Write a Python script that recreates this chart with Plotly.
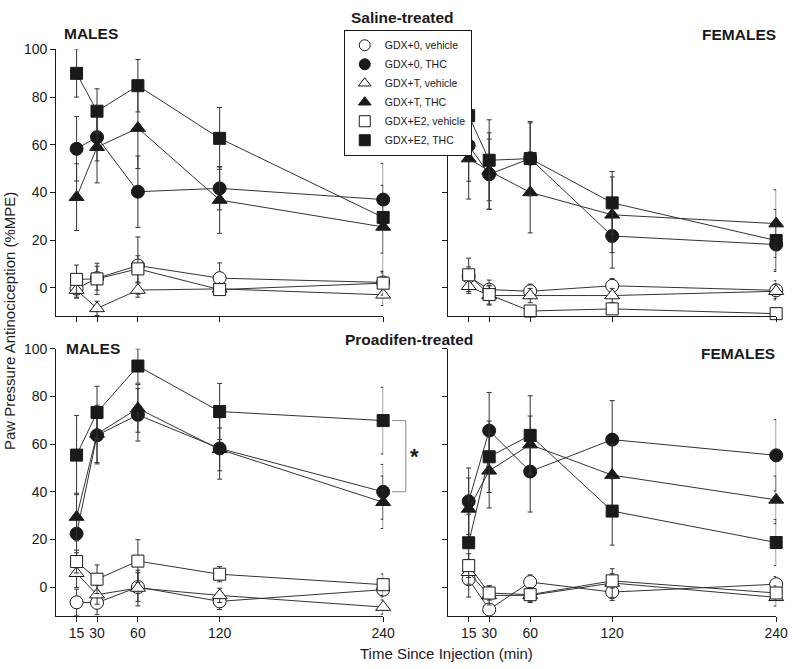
import plotly.graph_objects as go

# ---------------- data ----------------
time_min = [15, 30, 60, 120, 240]
x_tick_labels = ["15", "30", "60", "120", "240"]
y_tick_vals = [0, 20, 40, 60, 80, 100]

group_names = ["GDX+0, vehicle", "GDX+0, THC", "GDX+T, vehicle",
               "GDX+T, THC", "GDX+E2, vehicle", "GDX+E2, THC"]

# Saline-treated, males
ms_gdx0_veh = [-0.4, 4.0, 9.3, 4.0, 2.2]
ms_gdx0_veh_se = [4, 5, 12, 6.4, 4]
ms_gdx0_thc = [58.3, 63.2, 40.3, 41.7, 37.0]
ms_gdx0_thc_se = [13.5, 10, 15, 9, 6]
ms_gdxT_veh = [-1.0, -8.7, -1.0, -0.5, -3.0]
ms_gdxT_veh_se = [3, 3, 3, 2, 4.5]
ms_gdxT_thc = [38.0, 59.0, 67.0, 36.8, 25.5]
ms_gdxT_thc_se = [14, 15, 17, 14, 11]
ms_gdxE2_veh = [3.5, 3.7, 7.9, -0.8, 1.9]
ms_gdxE2_veh_se = [6, 6.6, 5.5, 2, 5]
ms_gdxE2_thc = [90.0, 74.1, 84.8, 62.7, 29.5]
ms_gdxE2_thc_se = [10, 9.4, 11, 13, 22.7]

# Saline-treated, females
fs_gdx0_veh = [4.7, -0.8, -1.5, 0.8, -1.1]
fs_gdx0_veh_se = [4, 4, 3, 3, 4]
fs_gdx0_thc = [59.7, 47.6, 54.2, 21.7, 18.1]
fs_gdx0_thc_se = [15, 14.8, 15, 13.5, 10.6]
fs_gdxT_veh = [0.6, -3.3, -3.3, -3.3, -1.5]
fs_gdxT_veh_se = [3, 4, 3, 3, 3]
fs_gdxT_thc = [54.2, 49.0, 40.0, 30.6, 26.9]
fs_gdxT_thc_se = [17, 16, 17, 15.9, 14.2]
fs_gdxE2_veh = [5.4, -2.9, -9.8, -8.9, -10.9]
fs_gdxE2_veh_se = [7, 4, 2, 2, 2]
fs_gdxE2_thc = [72.2, 53.5, 54.2, 35.6, 19.8]
fs_gdxE2_thc_se = [15, 17, 15.6, 13.2, 13]

# Proadifen-treated, males
mp_gdx0_veh = [-6.4, -6.6, 0.0, -6.0, -1.1]
mp_gdx0_veh_se = [5.5, 5, 6, 3.4, 3]
mp_gdx0_thc = [22.4, 63.7, 72.3, 58.2, 40.0]
mp_gdx0_thc_se = [8, 12, 11, 12.9, 11.5]
mp_gdxT_veh = [5.8, -3.2, -0.4, -3.5, -8.4]
mp_gdxT_veh_se = [6, 4, 7.5, 3, 3]
mp_gdxT_thc = [29.4, 64.3, 75.0, 57.8, 35.6]
mp_gdxT_thc_se = [10, 12, 10, 9, 11]
mp_gdxE2_veh = [10.7, 3.3, 10.9, 5.4, 1.0]
mp_gdxE2_veh_se = [4.8, 6, 9, 3.2, 4.5]
mp_gdxE2_thc = [55.4, 73.3, 92.8, 73.7, 69.9]
mp_gdxE2_thc_se = [16.6, 11, 7.2, 11.8, 14]

# Proadifen-treated, females
fp_gdx0_veh = [3.3, -9.4, 2.1, -2.1, 1.2]
fp_gdx0_veh_se = [7.5, 2, 3, 3.5, 3.2]
fp_gdx0_thc = [36.0, 65.7, 48.5, 61.9, 55.3]
fp_gdx0_thc_se = [14, 16, 17, 16.4, 15]
fp_gdxT_veh = [6.2, -3.5, -3.5, 1.7, -4.3]
fp_gdxT_veh_se = [5, 4, 3, 6, 3.7]
fp_gdxT_thc = [32.8, 48.8, 59.8, 47.0, 36.6]
fp_gdxT_thc_se = [13, 15.6, 12, 13, 10]
fp_gdxE2_veh = [9.0, -2.5, -3.2, 2.6, -2.5]
fp_gdxE2_veh_se = [5, 3, 3, 3, 3]
fp_gdxE2_thc = [18.6, 54.7, 63.7, 31.9, 18.7]
fp_gdxE2_thc_se = [12, 15, 16.6, 14.3, 9.7]

# ---------------- styling ----------------
W, H = 800, 669
FONT = "Liberation Sans, Arial, sans-serif"
INK = "#1a1a1a"

marker_styles = [
    dict(symbol="circle", color="white", size=13),
    dict(symbol="circle", color=INK, size=13),
    dict(symbol="triangle-up", color="white", size=13),
    dict(symbol="triangle-up", color=INK, size=13),
    dict(symbol="square", color="white", size=12),
    dict(symbol="square", color=INK, size=12),
]

panels = [
    ("", [ms_gdx0_veh, ms_gdx0_thc, ms_gdxT_veh, ms_gdxT_thc, ms_gdxE2_veh, ms_gdxE2_thc],
     [ms_gdx0_veh_se, ms_gdx0_thc_se, ms_gdxT_veh_se, ms_gdxT_thc_se, ms_gdxE2_veh_se, ms_gdxE2_thc_se]),
    ("2", [fs_gdx0_veh, fs_gdx0_thc, fs_gdxT_veh, fs_gdxT_thc, fs_gdxE2_veh, fs_gdxE2_thc],
     [fs_gdx0_veh_se, fs_gdx0_thc_se, fs_gdxT_veh_se, fs_gdxT_thc_se, fs_gdxE2_veh_se, fs_gdxE2_thc_se]),
    ("3", [mp_gdx0_veh, mp_gdx0_thc, mp_gdxT_veh, mp_gdxT_thc, mp_gdxE2_veh, mp_gdxE2_thc],
     [mp_gdx0_veh_se, mp_gdx0_thc_se, mp_gdxT_veh_se, mp_gdxT_thc_se, mp_gdxE2_veh_se, mp_gdxE2_thc_se]),
    ("4", [fp_gdx0_veh, fp_gdx0_thc, fp_gdxT_veh, fp_gdxT_thc, fp_gdxE2_veh, fp_gdxE2_thc],
     [fp_gdx0_veh_se, fp_gdx0_thc_se, fp_gdxT_veh_se, fp_gdxT_thc_se, fp_gdxE2_veh_se, fp_gdxE2_thc_se]),
]

fig = go.Figure()
for suffix, series, errs in panels:
    for i in [1, 3, 5, 0, 2, 4]:
        ms = marker_styles[i]
        fig.add_trace(go.Scatter(
            x=time_min, y=series[i],
            xaxis="x" + suffix, yaxis="y" + suffix,
            mode="lines+markers",
            name=group_names[i],
            showlegend=False,
            cliponaxis=False,
            line=dict(color="#333333", width=1),
            marker=dict(symbol=ms["symbol"], size=ms["size"], color=ms["color"],
                        line=dict(color=INK, width=1)),
            error_y=dict(type="data", array=errs[i], visible=True,
                         color="#333333", thickness=1, width=2.5),
            hoverinfo="x+y+name",
        ))

# legend entries (marker only, no line)
for i, name in enumerate(group_names):
    ms = marker_styles[i]
    fig.add_trace(go.Scatter(
        x=[None], y=[None], mode="markers", name=name, showlegend=True,
        legendrank=i + 1,
        marker=dict(symbol=ms["symbol"], size=11, color=ms["color"],
                    line=dict(color=INK, width=1)),
    ))

def px_x(p):
    return p / W

def px_y(p):
    return 1 - p / H

left_dom = [px_x(57), px_x(389)]
right_dom = [px_x(455), px_x(788)]
top_dom = [px_y(312), px_y(42)]
bot_dom = [px_y(615), px_y(345)]

def xax(domain, anchor, labels):
    return dict(domain=domain, anchor=anchor, range=[0, 240],
                tickmode="array", tickvals=time_min, ticktext=x_tick_labels,
                showticklabels=labels, ticks="outside", ticklen=5, tickcolor=INK,
                showline=True, linecolor=INK, linewidth=1, showgrid=False,
                zeroline=False, tickfont=dict(size=14, color=INK, family=FONT))

def yax(domain, anchor, labels):
    return dict(domain=domain, anchor=anchor, range=[-12, 100],
                tickmode="array", tickvals=y_tick_vals,
                showticklabels=labels, ticks="outside", ticklen=5, tickcolor=INK,
                showline=True, linecolor=INK, linewidth=1, showgrid=False,
                zeroline=False, tickfont=dict(size=14, color=INK, family=FONT))

fig.update_layout(
    width=W, height=H,
    margin=dict(l=0, r=0, t=0, b=0),
    paper_bgcolor="white", plot_bgcolor="white",
    font=dict(family=FONT, color=INK),
    xaxis=xax(left_dom, "y", False), yaxis=yax(top_dom, "x", True),
    xaxis2=xax(right_dom, "y2", False), yaxis2=yax(top_dom, "x2", False),
    xaxis3=xax(left_dom, "y3", True), yaxis3=yax(bot_dom, "x3", True),
    xaxis4=xax(right_dom, "y4", True), yaxis4=yax(bot_dom, "x4", False),
    legend=dict(x=px_x(349), y=px_y(22), xanchor="left", yanchor="top",
                bordercolor=INK, borderwidth=1, bgcolor="white",
                font=dict(size=10.5, family=FONT, color=INK),
                itemsizing="trace", tracegroupgap=0, itemwidth=30),
    showlegend=True,
)

def ann(text, xp, yp, size, bold=True, **kw):
    fig.add_annotation(text=("<b>%s</b>" % text) if bold else text,
                       x=px_x(xp), y=px_y(yp), xref="paper", yref="paper",
                       showarrow=False, xanchor="center", yanchor="middle",
                       font=dict(size=size, family=FONT, color=INK), **kw)

ann("Saline-treated", 409, 10, 15.5)
ann("Proadifen-treated", 415, 336, 15.5)
ann("MALES", 92, 26, 15.5)
ann("MALES", 94, 345, 15.5)
ann("FEMALES", 750, 27, 15.5)
ann("FEMALES", 749, 350, 15.5)
ann("Time Since Injection (min)", 453, 653, 15, bold=False)
ann("Paw Pressure Antinociception (%MPE)", 9, 317, 15, bold=False, textangle=-90)

# significance bracket between GDX+E2,THC and GDX+0,THC at 240 min (proadifen males)
y_hi = mp_gdxE2_thc[-1]
y_lo = mp_gdx0_thc[-1]
bx0, bx1 = px_x(398), px_x(412)
for (xa, ya, xb, yb) in [(bx0, y_hi, bx1, y_hi), (bx1, y_hi, bx1, y_lo), (bx0, y_lo, bx1, y_lo)]:
    fig.add_shape(type="line", xref="paper", yref="y3", x0=xa, y0=ya, x1=xb, y1=yb,
                  line=dict(color="#8a8a8a", width=1))
fig.add_annotation(text="<b>*</b>", x=px_x(421), y=(y_hi + y_lo) / 2, xref="paper", yref="y3",
                   showarrow=False, font=dict(size=22, family=FONT, color=INK),
                   xanchor="center", yanchor="middle")

fig.write_html(
    "out.html",
    config={"displayModeBar": False},
    post_script=("document.body.style.margin='0';document.body.style.padding='0';"
                 "document.body.style.overflow='hidden';"),
)
